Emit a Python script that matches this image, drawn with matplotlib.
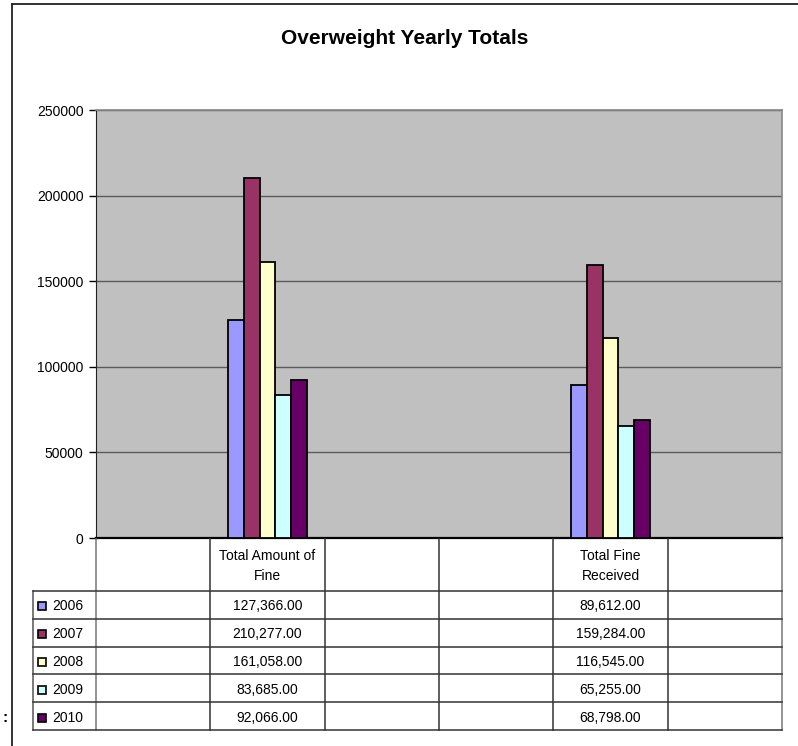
import numpy as np
import matplotlib.pyplot as plt
from matplotlib.lines import Line2D
from matplotlib.patches import Rectangle

plt.rcParams['font.family'] = ['Liberation Sans', 'DejaVu Sans']

# data (empty slots are the blank category columns of the Excel chart)
nan = np.nan
categories = ["", "Total Amount of\nFine", "", "", "Total Fine\nReceived", ""]
years = ["2006", "2007", "2008", "2009", "2010"]
y2006 = [nan, 127366.0, nan, nan, 89612.0, nan]
y2007 = [nan, 210277.0, nan, nan, 159284.0, nan]
y2008 = [nan, 161058.0, nan, nan, 116545.0, nan]
y2009 = [nan, 83685.0, nan, nan, 65255.0, nan]
y2010 = [nan, 92066.0, nan, nan, 68798.0, nan]
series = [y2006, y2007, y2008, y2009, y2010]
colors = ['#9999FF', '#993366', '#FFFFCC', '#CCFFFF', '#660066']
yticks = [0, 50000, 100000, 150000, 200000, 250000]

W, H = 798, 746
fig = plt.figure(figsize=(W / 100, H / 100), dpi=100)

# outer chart frame (only top and left edges are visible)
fig.add_artist(Line2D([12 / W, 12 / W], [0, 1 - 4 / H], color='#222222', lw=1.3))
fig.add_artist(Line2D([12 / W, 1], [1 - 4 / H, 1 - 4 / H], color='#222222', lw=1.3))
fig.text(5 / W, 1 - 718 / H, ":", fontsize=11, weight='bold', ha='center', va='center')

fig.text(405 / W, 1 - 38 / H, "Overweight Yearly Totals", fontsize=15,
         weight='bold', ha='center', va='center')

# plot area
ax = fig.add_axes([96 / W, 1 - 538 / H, 686 / W, 428 / H])
ax.set_facecolor('#C0C0C0')
ax.set_xlim(-0.5, len(categories) - 0.5)
ax.set_ylim(0, 250000)
ax.set_yticks(yticks)
ax.set_yticklabels([str(t) for t in yticks])
ax.set_xticks([])
ax.yaxis.grid(True, color='#5a5a5a', lw=1)
ax.set_axisbelow(True)
ax.tick_params(axis='y', direction='out', length=5, width=1, labelsize=10, pad=4)
ax.spines['left'].set_color('#222222')
ax.spines['bottom'].set_color('black')
ax.spines['bottom'].set_linewidth(1.6)
for s in ['top', 'right']:
    ax.spines[s].set_color('#888888')
    ax.spines[s].set_linewidth(1.2)

x = np.arange(len(categories))
bw = 0.138
for i, (vals, c) in enumerate(zip(series, colors)):
    vals = np.array(vals)
    m = np.isfinite(vals)
    ax.bar(x[m] + (i - 2) * bw, vals[m], bw, color=c, edgecolor='black',
           linewidth=1.3, zorder=3)

# data table
cat_px = 686 / len(categories)
leg_w = 63 / cat_px
x0 = -0.5 - leg_w
x1 = len(categories) - 0.5
head_h, row_h = 52, 27.8
tot_h = head_h + row_h * len(years)

tab = fig.add_axes([33 / W, 1 - 730 / H, 749 / W, tot_h / H])
tab.set_xlim(x0, x1)
tab.set_ylim(tot_h, 0)
tab.axis('off')

line_c = '#333333'
edges = np.arange(len(categories) + 1) - 0.5
for e in edges:
    col = '#777777' if e in (edges[0], edges[-1]) else line_c
    tab.plot([e, e], [0, tot_h], color=col, lw=1.1, clip_on=False)
tab.plot([x0, x0], [head_h, tot_h], color='#555555', lw=1.1, clip_on=False)
for r in range(len(years) + 1):
    yy = head_h + r * row_h
    tab.plot([x0, x1], [yy, yy], color=line_c, lw=1.1, clip_on=False)

for j, cat in enumerate(categories):
    if cat:
        tab.text(j, head_h / 2 + 1, cat, ha='center', va='center', fontsize=10,
                 linespacing=1.55)

for r, (yr, vals, c) in enumerate(zip(years, series, colors)):
    yc = head_h + (r + 0.5) * row_h + 1.5
    tab.add_patch(Rectangle((x0 + 5 / cat_px, yc - 4), 8 / cat_px, 8,
                            facecolor=c, edgecolor='black', lw=1.2, clip_on=False))
    tab.text(x0 + 19 / cat_px, yc, yr, ha='left', va='center', fontsize=10)
    for j, v in enumerate(vals):
        if np.isfinite(v):
            tab.text(j, yc, f"{v:,.2f}", ha='center', va='center', fontsize=10)

fig.savefig("out.png", dpi=100)
